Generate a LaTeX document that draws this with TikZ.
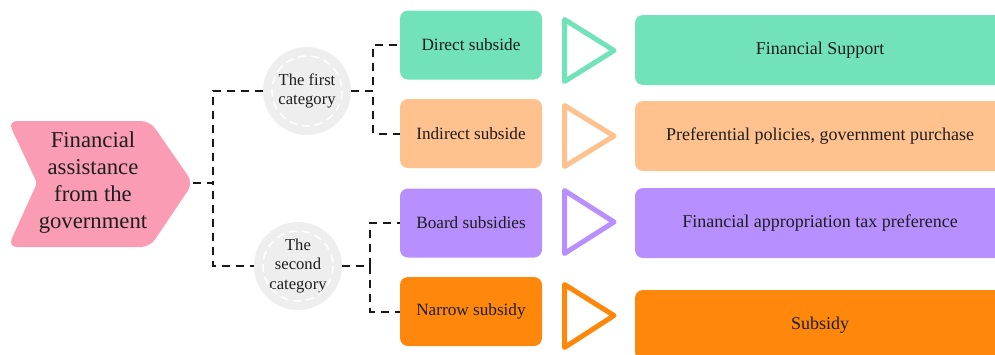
\documentclass[tikz,border=0pt]{standalone}
\usepackage{fontspec}
\setmainfont{Liberation Serif}
\usetikzlibrary{calc}
\definecolor{pinkfill}{HTML}{F99CB4}
\definecolor{greenfill}{HTML}{72E2BA}
\definecolor{peachfill}{HTML}{FFC18D}
\definecolor{lavfill}{HTML}{B78FFE}
\definecolor{orangefill}{HTML}{FF870B}
\definecolor{catfill}{HTML}{EEEEEE}
\definecolor{txt}{HTML}{1E1E1E}
\tikzset{
  dashline/.style={draw=black!90, line width=2pt, dash pattern=on 8pt off 6pt},
  catnode/.style={circle, fill=catfill, minimum size=88pt, inner sep=0pt,
    align=center, font=\fontsize{16.6}{19.8}\selectfont, text=txt},
  catring/.style={draw=white, line width=1.6pt, dash pattern=on 8pt off 5pt},
  midbox/.style={rounded corners=8pt, minimum width=142pt, minimum height=69pt,
    inner sep=0pt, font=\fontsize{17.2}{20}\selectfont, text=txt},
  widebox/.style={rounded corners=8pt, minimum width=370pt, minimum height=70pt,
    inner sep=0pt, font=\fontsize{18}{21}\selectfont, text=txt},
  pointer/.style={line width=5pt, line join=round, fill=none}
}
\begin{document}
\begin{tikzpicture}[x=1pt, y=-1pt]
\useasboundingbox (0,0) rectangle (995,354);
\clip (0,0) rectangle (995,354);

% source shape: chevron with a notch on the left
\fill[pinkfill, rounded corners=9pt]
  (8,121) -- (150,121) -- (193,183) -- (150,247) -- (8,247)
  [rounded corners=2pt] -- (37,183) [rounded corners=9pt] -- cycle;
\node[align=center, text=txt, font=\fontsize{22.7}{27}\selectfont] (gov) at (93,183)
  {Financial\\assistance\\from the\\government};
\coordinate (tip) at (193,183);

% two categories
\node[catnode] (c1) at (307,91) {The first\\category};
\draw[catring] (c1) circle (35);
\node[catnode] (c2) at (298,266) {The\\second\\category};
\draw[catring] (c2) circle (35);

% middle boxes
\node[midbox, fill=greenfill]  (d1) at (471,45)  {Direct subside};
\node[midbox, fill=peachfill]  (d2) at (471,133.5) {Indirect subside};
\node[midbox, fill=lavfill]    (d3) at (471,223) {Board subsidies};
\node[midbox, fill=orangefill] (d4) at (471,311.5) {Narrow subsidy};

% outline triangles
\draw[pointer, draw=greenfill]  (564.5,19.5) -- (614,50.5) -- (564.5,81.5) -- cycle;
\draw[pointer, draw=peachfill]  (564.5,105.5) -- (614,136) -- (564.5,166.5) -- cycle;
\draw[pointer, draw=lavfill]    (564.5,190.5) -- (614,222) -- (564.5,253.5) -- cycle;
\draw[pointer, draw=orangefill] (564.5,284.5) -- (614,315.5) -- (564.5,347.5) -- cycle;

% right-hand boxes
\node[widebox, fill=greenfill]  (r1) at (820,50)  {Financial Support};
\node[widebox, fill=peachfill]  (r2) at (820,136) {Preferential policies, government purchase};
\node[widebox, fill=lavfill]    (r3) at (820,223) {Financial appropriation tax preference};
\node[widebox, fill=orangefill] (r4) at (820,325) {Subsidy};

% dashed connectors
\draw[dashline] (tip) -- ++(20,0) |- (c1.west);
\draw[dashline] (tip) -- ++(20,0) |- (c2.west);
\draw[dashline] (c1.east) -- ++(22,0) |- (d1.west);
\draw[dashline] (c1.east) -- ++(22,0) |- (d2.west);
\draw[dashline] (c2.east) -- ++(28,0) |- (d3.west);
\draw[dashline] (c2.east) -- ++(28,0) |- (d4.west);
\end{tikzpicture}
\end{document}
